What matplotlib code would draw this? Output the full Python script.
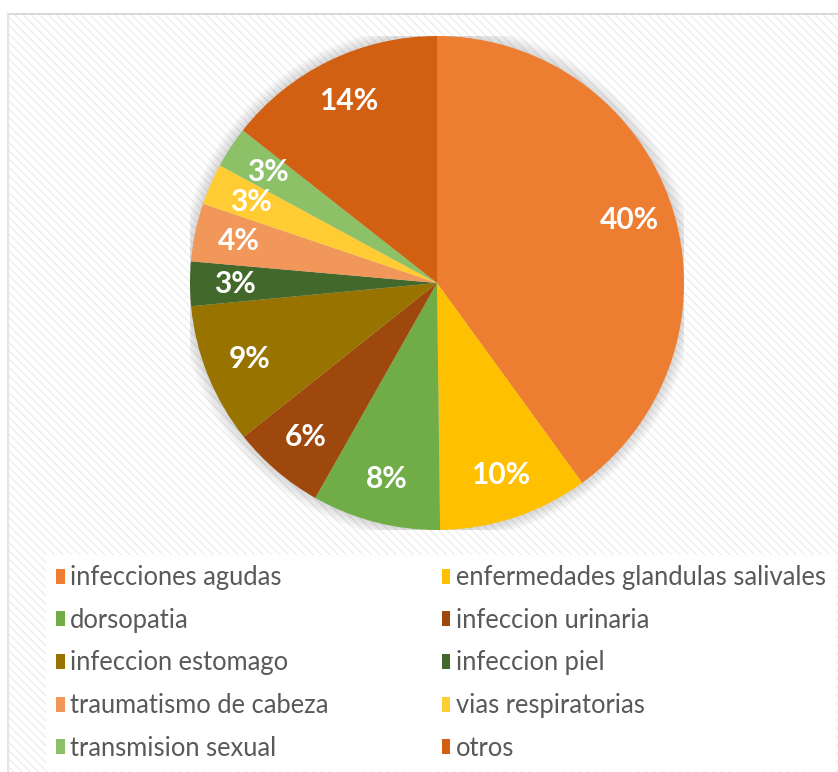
import matplotlib.pyplot as plt
from matplotlib.patches import Rectangle, Circle

labels = ["infecciones agudas", "enfermedades glandulas salivales", "dorsopatia",
          "infeccion urinaria", "infeccion estomago", "infeccion piel",
          "traumatismo de cabeza", "vias respiratorias", "transmision sexual", "otros"]
values = [40.0, 9.8, 8.4, 6.1, 9.2, 2.9, 3.8, 2.7, 2.7, 14.4]
colors = ["#ED7D31", "#FFC000", "#70AD47", "#9E480E", "#997300",
          "#43682B", "#F1975A", "#FFCD33", "#8CC168", "#D26012"]

W, H = 838, 772
fig = plt.figure(figsize=(W / 100, H / 100), dpi=100)
plt.rcParams['hatch.linewidth'] = 1.0

# chart area background with faint diagonal pattern
bg = Rectangle((8 / W, -0.1), 1.2, 1.1 - 14 / H, transform=fig.transFigure,
               facecolor="white", edgecolor="#eeeeee", hatch="\\\\\\\\", lw=0, zorder=-5)
fig.patches.append(bg)
fig.add_artist(plt.Line2D([8 / W, 1], [1 - 14 / H, 1 - 14 / H], color="#d9d9d9", lw=1.5, zorder=-4))
fig.add_artist(plt.Line2D([8 / W, 8 / W], [0, 1 - 14 / H], color="#e4e4e4", lw=1.5, zorder=-4))

cx, cy, r = 437, 283, 247
ax = fig.add_axes([(cx - r) / W, (H - cy - r) / H, 2 * r / W, 2 * r / H])
ax.axis("off")

# soft shadow
for i in range(6):
    ax.add_patch(Circle((0, 0), 1.0 + 0.008 * (i + 1), color="#000000", alpha=0.025, lw=0, zorder=0))

wedges, _, autotexts = ax.pie(values, colors=colors, startangle=90, counterclock=False,
                              autopct="%.0f%%", pctdistance=0.82, radius=1.0,
                              wedgeprops=dict(linewidth=0),
                              textprops=dict(color="white", fontsize=21.5, fontweight="bold",
                                             family="Lato"))
ax.set_xlim(-1, 1)
ax.set_ylim(-1, 1)
for w in wedges:
    w.set_zorder(2)
for t in autotexts:
    t.set_zorder(3)

order = [0, 2, 4, 6, 8, 1, 3, 5, 7, 9]
leg = fig.legend([wedges[i] for i in order], [labels[i] for i in order], ncol=2,
                 loc="upper left", bbox_to_anchor=(46 / W, 1 - 555 / H),
                 frameon=True, facecolor="white", edgecolor="none", framealpha=1,
                 handlelength=0.33, handleheight=0.53, handletextpad=0.2,
                 labelspacing=0.69, columnspacing=4.45, borderaxespad=0, fancybox=False,
                 prop=dict(family="Lato", size=18.4))
for t in leg.get_texts():
    t.set_color("#595959")

fig.savefig("out.png", dpi=100)
